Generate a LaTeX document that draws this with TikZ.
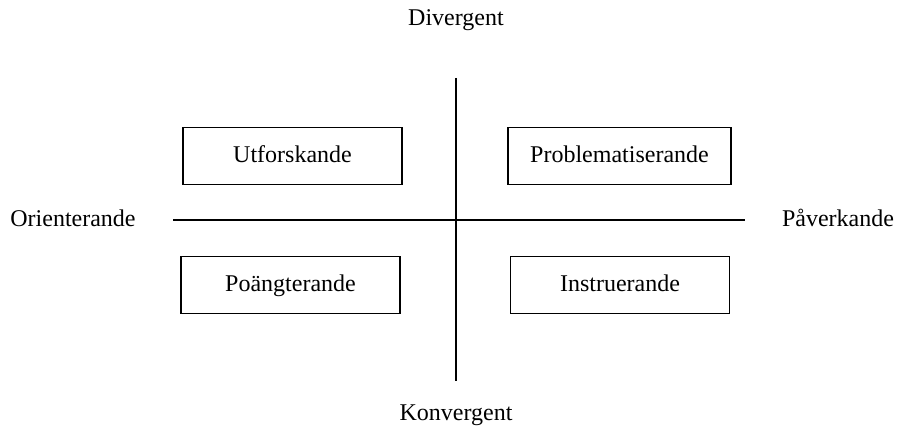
\documentclass[tikz,border=0pt]{standalone}
\usepackage{fontspec}
\setmainfont{Liberation Serif}
\usetikzlibrary{positioning}

\begin{document}
\begin{tikzpicture}[x=0.5pt, y=-0.5pt,
    every node/.style={font=\fontsize{12}{14}\selectfont, text height=8.5pt, text depth=2.5pt},
    typebox/.style={draw, line width=0.75pt, minimum width=109.5pt, minimum height=28.5pt, inner sep=0pt},
    axis/.style={line width=0.9pt}]
  \useasboundingbox (0,0) rectangle (898,433);
  \coordinate (top) at (456,78);
  \coordinate (bottom) at (456,381);
  \coordinate (left) at (173,220);
  \coordinate (right) at (745,220);
  \draw[axis] (top) -- (bottom);
  \draw[axis] (left) -- (right);
  \node (div) at (456,20) {Divergent};
  \node (konv) at (456,414) {Konvergent};
  \node (orient) at (73,220) {Orienterande};
  \node (pav) at (838,220) {P\r{a}verkande};
  \node[typebox] (utf) at (292.5,156) {Utforskande};
  \node[typebox, minimum width=111.5pt] (prob) at (619.5,156) {Problematiserande};
  \node[typebox] (poang) at (290.5,285) {Po\"angterande};
  \node[typebox] (instr) at (620,285) {Instruerande};
\end{tikzpicture}
\end{document}
